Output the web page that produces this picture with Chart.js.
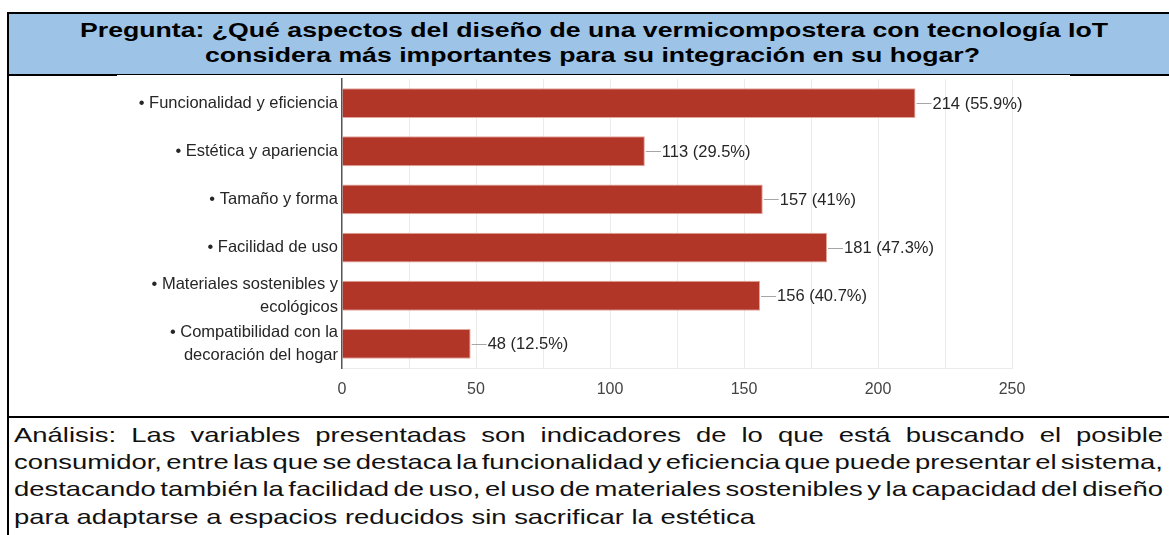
<!DOCTYPE html>
<html>
<head>
<meta charset="utf-8">
<script src="https://cdn.jsdelivr.net/npm/chart.js@4"></script>
<style>
    html, body { margin: 0; padding: 0; background: #fff; width: 1169px; height: 535px; overflow: hidden; }
    body { font-family: "Liberation Sans", Arial, sans-serif; color: #000; }
    #page { position: relative; width: 1169px; height: 535px; overflow: hidden; }
    .rule { position: absolute; background: #000; z-index: 5; }
    #head { position: absolute; left: 9px; top: 14px; width: 1172px; height: 60px; background: #9dc3e6; }
    .title { position: absolute; white-space: nowrap; font-weight: bold; font-size: 20px; line-height: 25px; transform-origin: 0 50%; }
    #chartBox { position: absolute; left: 0; top: 76px; width: 1169px; height: 340px; }
    .txt { position: absolute; left: 14px; white-space: nowrap; font-size: 21px; line-height: 28px; transform-origin: 0 50%; color: #111; }
</style>
</head>
<body>
<div id="page">
    <div id="head"></div>
    <span class="title" id="t1" style="top:17.5px">Pregunta: ¿Qué aspectos del diseño de una vermicompostera con tecnología IoT</span>
    <span class="title" id="t2" style="top:42.5px">considera más importantes para su integración en su hogar?</span>

    <div id="chartBox"><canvas id="chart"></canvas></div>

    <!-- table borders -->
    <div class="rule" style="left:7px; top:12px; width:1162px; height:2px"></div>
    <div class="rule" style="left:7px; top:12px; width:2px; height:523px"></div>
    <div class="rule" style="left:9px; top:74px; width:1160px; height:1px"></div>
    <div class="rule" style="left:9px; top:74px; width:108px; height:2px"></div>
    <div class="rule" style="left:1070px; top:74px; width:99px; height:2px"></div>
    <div class="rule" style="left:7px; top:416px; width:1162px; height:2px"></div>

    <div class="txt" id="a1" style="top:421px">Análisis: Las variables presentadas son indicadores de lo que está buscando el posible</div>
    <div class="txt" id="a2" style="top:448px">consumidor, entre las que se destaca la funcionalidad y eficiencia que puede presentar el sistema,</div>
    <div class="txt" id="a3" style="top:475px">destacando también la facilidad de uso, el uso de materiales sostenibles y la capacidad del diseño</div>
    <div class="txt" id="a4" style="top:503px">para adaptarse a espacios reducidos sin sacrificar la estética</div>
</div>

<script>
    const categories = [
        ['• Funcionalidad y eficiencia'],
        ['• Estética y apariencia'],
        ['• Tamaño y forma'],
        ['• Facilidad de uso'],
        ['• Materiales sostenibles y', 'ecológicos'],
        ['• Compatibilidad con la', 'decoración del hogar']
    ];
    const counts = [214, 113, 157, 181, 156, 48];
    const percents = ['55.9', '29.5', '41', '47.3', '40.7', '12.5'];
    const xTicks = [0, 50, 100, 150, 200, 250];

    const FONT = '"Liberation Sans", Arial, sans-serif';

    // stretch the title lines to the width they have in the document
    function fitTitle(id, left, width) {
        const el = document.getElementById(id);
        const w = el.getBoundingClientRect().width;
        el.style.left = left + 'px';
        el.style.transform = `scaleX(${width / w})`;
    }
    fitTitle('t1', 80, 1028);
    fitTitle('t2', 205, 775);

    // analysis paragraph: common horizontal stretch, first three lines justified
    (function () {
        const full = 1149;
        const lines = ['a1', 'a2', 'a3', 'a4'].map(id => document.getElementById(id));
        const nat = lines.map(el => el.getBoundingClientRect().width);
        const s = 741 / nat[3];
        lines.forEach((el, i) => {
            if (i < 3) {
                const spaces = (el.textContent.match(/ /g) || []).length;
                el.style.wordSpacing = ((full / s - nat[i]) / spaces) + 'px';
            }
            el.style.transform = `scaleX(${s})`;
        });
    })();

    const valueLabels = {
        id: 'valueLabels',
        afterDatasetsDraw(chart) {
            const ctx = chart.ctx;
            const bars = chart.getDatasetMeta(0).data;
            ctx.save();
            bars.forEach((bar, i) => {
                const y = Math.round(bar.y) + 0.5;
                ctx.strokeStyle = '#a6a6a6';
                ctx.lineWidth = 1;
                ctx.beginPath();
                ctx.moveTo(bar.x + 1, y);
                ctx.lineTo(bar.x + 16, y);
                ctx.stroke();
                ctx.fillStyle = '#262626';
                ctx.font = '16.5px ' + FONT;
                ctx.textAlign = 'left';
                ctx.textBaseline = 'middle';
                ctx.fillText(`${counts[i]} (${percents[i]}%)`, bar.x + 17, bar.y + 1);
            });
            ctx.restore();
        }
    };

    new Chart(document.getElementById('chart'), {
        type: 'bar',
        data: {
            labels: categories,
            datasets: [{
                data: counts,
                backgroundColor: '#b23627',
                borderColor: '#e3a59c',
                borderWidth: 1,
                barPercentage: 0.62,
                categoryPercentage: 1
            }]
        },
        options: {
            indexAxis: 'y',
            responsive: true,
            maintainAspectRatio: false,
            animation: false,
            layout: { padding: { top: 3, right: 157, left: 0, bottom: 0 } },
            plugins: {
                legend: { display: false },
                tooltip: { enabled: false }
            },
            scales: {
                x: {
                    min: xTicks[0],
                    max: xTicks[xTicks.length - 1],
                    afterFit: (scale) => { scale.height = 48; },
                    ticks: {
                        stepSize: 25,
                        autoSkip: false,
                        maxRotation: 0,
                        padding: 12,
                        color: '#444',
                        font: { family: FONT, size: 16 },
                        callback: (v) => xTicks.includes(v) ? v : ''
                    },
                    grid: {
                        drawTicks: false,
                        color: (c) => c.tick && c.tick.value === 0 ? 'rgba(0,0,0,0)' : '#ebebeb'
                    },
                    border: { display: true, color: '#ebebeb' }
                },
                y: {
                    afterFit: (scale) => {
                        scale.width = 342;
                        scale.paddingTop = 0;
                        scale.paddingBottom = 0;
                    },
                    ticks: {
                        autoSkip: false,
                        padding: 4,
                        color: '#262626',
                        font: { family: FONT, size: 16.5, lineHeight: 1.4 }
                    },
                    grid: { display: false, drawTicks: false },
                    border: { display: true, color: '#555', width: 1.5 }
                }
            }
        },
        plugins: [valueLabels]
    });
</script>
</body>
</html>
